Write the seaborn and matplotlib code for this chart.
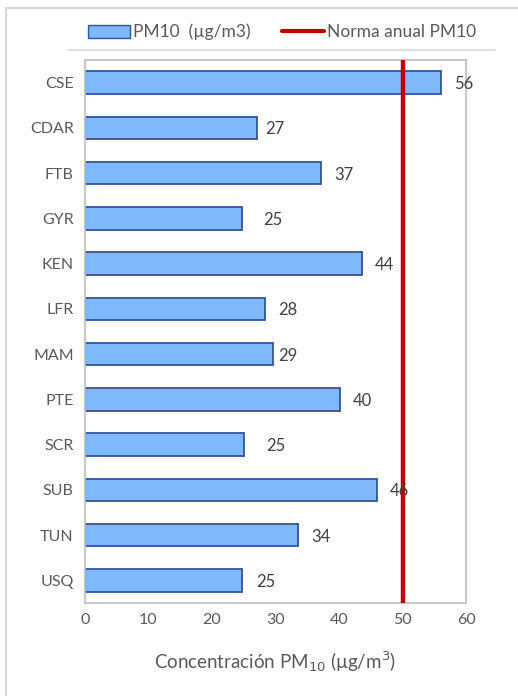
import numpy as np
import pandas as pd
import matplotlib.pyplot as plt
from matplotlib.patches import Patch
from matplotlib.lines import Line2D
import seaborn as sns

# Data
stations = ['CSE', 'CDAR', 'FTB', 'GYR', 'KEN', 'LFR', 'MAM', 'PTE', 'SCR', 'SUB', 'TUN', 'USQ']
pm10 = [56.1, 27.1, 37.2, 24.7, 43.6, 28.3, 29.6, 40.2, 25.0, 46.0, 33.5, 24.7]
pm10_labels = ['56', '27', '37', '25', '44', '28', '29', '40', '25', '46', '34', '25']
norma_anual = 50

# label gap from bar end (points) - Excel placed some by hand
label_gap = [9, 6, 9, 15, 9, 10, 4, 9, 16, 9, 10, 10]

df = pd.DataFrame({'Estacion': stations, 'PM10': pm10})

sns.set_style("white")
plt.rcParams['font.family'] = ['Lato', 'DejaVu Sans']

grey_txt = '#595959'
frame = '#d9d9d9'

fig = plt.figure(figsize=(5.18, 6.96), dpi=100)
ax = fig.add_axes([0.164, 0.1336, 0.736, 0.7802])

sns.barplot(data=df, x='PM10', y='Estacion', orient='h', color='#80b8fc',
            edgecolor='#2f5597', linewidth=1.3, width=0.5, saturation=1, ax=ax)

ax.axvline(norma_anual, color='#c00000', linewidth=3.2, zorder=5)

for i, (v, lab) in enumerate(zip(pm10, pm10_labels)):
    ax.annotate(lab, (v, i), xytext=(label_gap[i], -1), textcoords='offset points',
                va='center', ha='left', fontsize=12, color='#404040', zorder=6)

ax.set_xlim(0, 60)
ax.set_xticks(range(0, 61, 10))
ax.set_ylim(len(stations) - 0.5, -0.5)
ax.set_ylabel('')
ax.set_xlabel('Concentración PM$_{10}$ (µg/m$^3$)', fontsize=13.5, color=grey_txt, labelpad=16)
ax.tick_params(axis='x', colors=grey_txt, labelsize=11.5, length=5, width=1, direction='out', pad=2)
ax.tick_params(axis='x', color='#bfbfbf')
ax.tick_params(axis='y', colors=grey_txt, labelsize=11.5, length=0, pad=8)
for s in ax.spines.values():
    s.set_visible(True)
    s.set_color('#bfbfbf')
    s.set_linewidth(1.2)

handles = [Patch(facecolor='#80b8fc', edgecolor='#2f5597', linewidth=1.0),
           Line2D([0], [0], color='#c00000', linewidth=3)]
leg = fig.legend(handles, ['PM10  (µg/m3)', 'Norma anual PM10'], loc='center',
                 bbox_to_anchor=(0.545, 0.954), ncol=2, frameon=False, fontsize=12.5,
                 handlelength=2.4, handleheight=0.8, columnspacing=1.8, handletextpad=0.2)
for t in leg.get_texts():
    t.set_color(grey_txt)

# separator under legend and chart-area border
fig.add_artist(Line2D([0.131, 0.956], [0.928, 0.928], color=frame, linewidth=1.2))
fig.add_artist(Line2D([6 / 518, 6 / 518, 1.0], [0.0, 1 - 8 / 696, 1 - 8 / 696],
                      color=frame, linewidth=1.6))

fig.savefig('out.png', dpi=100)
